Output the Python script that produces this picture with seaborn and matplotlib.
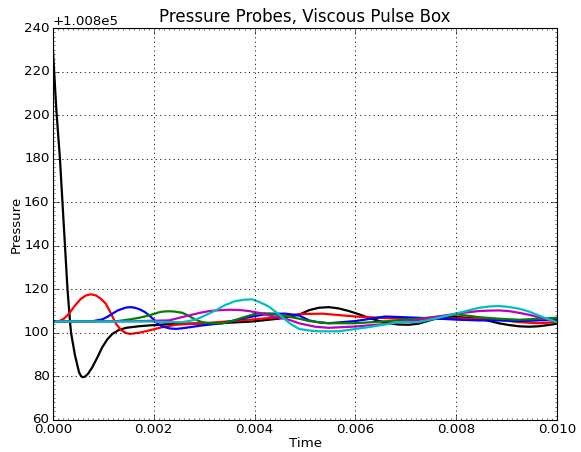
"""Pressure probes in a viscous pulse box, redrawn in the old matplotlib look."""

import matplotlib
matplotlib.use("Agg")
import matplotlib.pyplot as plt
import matplotlib.ticker as mticker
import seaborn as sns

BASE = 1.008e5

# probe readings, pressure shown as offset above BASE
t_black = [0.0, 0.00002, 0.00007, 0.00014, 0.00019, 0.00024, 0.00029, 0.00034, 0.00036,
           0.00044, 0.00052, 0.00056, 0.00059, 0.00064, 0.0007, 0.00078, 0.00088,
           0.00098, 0.00108, 0.00118, 0.0013, 0.00145, 0.0017, 0.00191, 0.00244,
           0.0030, 0.00329, 0.00395, 0.00448, 0.00488, 0.00508, 0.00527, 0.00547,
           0.00567, 0.00587, 0.00606, 0.00626, 0.00646, 0.00666, 0.00686, 0.00706,
           0.00725, 0.00765, 0.00785, 0.00805, 0.00825, 0.00845, 0.00865, 0.00884,
           0.00904, 0.00924, 0.00944, 0.00963, 0.0098, 0.0100]
p_black = [230.5, 222.0, 202.0, 180.0, 160.0, 140.0, 120.0, 105.2, 100.0,
           89.5, 81.8, 80.1, 79.6, 79.9, 81.3, 84.1, 88.6,
           93.4, 97.0, 99.5, 101.2, 102.3, 103.0, 103.4, 104.2,
           104.3, 104.4, 105.2, 106.5, 108.3, 110.4, 111.5, 111.8,
           111.2, 110.0, 108.6, 106.9, 105.5, 104.4, 103.8, 103.7,
           104.2, 106.9, 107.3, 107.2, 106.9, 106.5, 105.5, 104.4,
           103.6, 103.0, 102.8, 103.0, 103.5, 104.2]

t_red = [0.0, 0.00012, 0.00022, 0.00032, 0.00043, 0.00055, 0.00065, 0.00075, 0.00085,
         0.00095, 0.00105, 0.00115, 0.00125, 0.00135, 0.00145, 0.00154, 0.00172,
         0.00191, 0.00215, 0.00244, 0.0031, 0.00389, 0.00448, 0.00488, 0.00534,
         0.0060, 0.00666, 0.00725, 0.00805, 0.00884, 0.00924, 0.00963, 0.0100]
p_red = [105.2, 105.3, 106.5, 108.8, 112.3, 115.5, 117.1, 117.7, 117.2,
         115.7, 113.4, 109.0, 104.2, 101.3, 99.9, 99.5, 100.1,
         101.1, 102.5, 103.7, 104.6, 106.0, 107.2, 108.6, 108.8,
         107.5, 106.7, 106.1, 106.7, 106.0, 104.9, 104.4, 104.9]

t_blue = [0.0, 0.00078, 0.00098, 0.00108, 0.00118, 0.00128, 0.00137, 0.00145, 0.00154,
          0.00163, 0.00172, 0.00182, 0.00191, 0.002, 0.00208, 0.00217, 0.00232,
          0.00244, 0.00257, 0.00296, 0.00336, 0.00389, 0.00428, 0.00461, 0.00488,
          0.00508, 0.00527, 0.00547, 0.0060, 0.00659, 0.00725, 0.00765, 0.00805,
          0.00845, 0.00884, 0.00924, 0.0100]
p_blue = [105.2, 105.3, 106.2, 107.3, 108.8, 110.2, 111.0, 111.6, 111.8,
          111.5, 110.8, 109.6, 108.0, 106.1, 104.2, 102.9, 102.0,
          101.8, 102.1, 103.4, 104.4, 107.2, 108.8, 108.8, 108.0,
          105.7, 104.8, 104.4, 105.4, 107.5, 106.9, 106.5, 106.0,
          105.7, 105.7, 105.4, 106.0]

t_green = [0.0, 0.00125, 0.00154, 0.00175, 0.00191, 0.0021, 0.0022, 0.0023, 0.0024,
           0.00257, 0.0027, 0.00283, 0.00295, 0.0031, 0.00336, 0.00355, 0.00375,
           0.00402, 0.0042, 0.00442, 0.00465, 0.00488, 0.00508, 0.00547, 0.0060,
           0.00666, 0.00725, 0.00765, 0.00805, 0.00845, 0.00884, 0.00924, 0.0100]
p_green = [105.2, 105.3, 106.2, 107.1, 108.0, 109.4, 109.8, 109.9, 109.8,
           109.2, 107.7, 106.0, 105.0, 104.4, 104.4, 105.4, 106.9,
           108.8, 109.0, 108.4, 107.5, 106.5, 105.4, 104.4, 104.4,
           105.4, 106.5, 107.5, 108.4, 107.2, 106.5, 106.0, 106.9]

t_magenta = [0.0, 0.00154, 0.00191, 0.0023, 0.0027, 0.0029, 0.0031, 0.0033, 0.00349,
             0.0037, 0.00389, 0.0041, 0.00428, 0.00448, 0.00468, 0.00488, 0.00508,
             0.0052, 0.00547, 0.0060, 0.00666, 0.00725, 0.00765, 0.00805, 0.00845,
             0.00865, 0.00884, 0.00904, 0.00924, 0.00944, 0.00963, 0.0098, 0.0100]
p_magenta = [105.2, 105.3, 105.5, 105.7, 108.0, 109.1, 110.0, 110.4, 110.6,
             110.5, 110.0, 109.1, 108.0, 107.0, 106.0, 104.4, 103.4,
             102.8, 102.3, 102.9, 104.2, 106.0, 107.5, 109.0, 110.0,
             110.2, 110.3, 110.0, 109.2, 108.3, 107.2, 106.2, 104.9]

t_cyan = [0.0, 0.00191, 0.0023, 0.00257, 0.00283, 0.0030, 0.00323, 0.0034, 0.00362,
          0.0038, 0.00395, 0.0041, 0.00428, 0.00442, 0.00455, 0.0047, 0.00488,
          0.0051, 0.00527, 0.00567, 0.00626, 0.00686, 0.00725, 0.00765, 0.00805,
          0.00845, 0.00865, 0.00884, 0.00904, 0.00924, 0.00944, 0.00963, 0.0098,
          0.0100]
p_cyan = [105.2, 105.2, 104.9, 104.9, 106.0, 107.8, 110.3, 112.6, 114.6,
          115.2, 115.4, 114.1, 112.1, 109.6, 107.2, 104.3, 101.8,
          101.0, 100.7, 100.7, 102.6, 104.9, 104.9, 106.9, 109.2,
          111.5, 112.1, 112.3, 111.9, 111.1, 109.8, 108.0, 106.5,
          104.9]

SERIES = [
    (t_black, p_black, "k"),
    (t_red, p_red, "r"),
    (t_blue, p_blue, "b"),
    (t_green, p_green, "g"),
    (t_magenta, p_magenta, "m"),
    (t_cyan, p_cyan, "c"),
]

plt.style.use("classic")
plt.rcParams.update({"font.family": "DejaVu Sans", "font.size": 12})

fig, ax = plt.subplots(figsize=(581 / 80, 452 / 80), dpi=80, facecolor="white")
fig.subplots_adjust(left=0.091, right=0.959, top=0.938, bottom=0.071)

for t, p, col in SERIES:
    sns.lineplot(x=t, y=[BASE + v for v in p], color=col, linewidth=2,
                 sort=False, estimator=None, ax=ax)

ax.set_xlim(0.0, 0.010)
ax.set_ylim(BASE + 60, BASE + 240)
ax.xaxis.set_major_locator(mticker.MultipleLocator(0.002))
ax.yaxis.set_major_locator(mticker.MultipleLocator(20))
ax.xaxis.set_major_formatter(mticker.FormatStrFormatter("%.3f"))
ax.ticklabel_format(axis="y", useOffset=BASE)
ax.yaxis.set_minor_locator(mticker.AutoMinorLocator(10))
ax.xaxis.set_minor_locator(mticker.AutoMinorLocator(20))
ax.tick_params(which="major", direction="in", length=5, top=True, right=True, pad=3)
ax.tick_params(which="minor", direction="in", length=2, top=True, right=True)
ax.grid(True, which="major", color="black", linestyle=":", linewidth=0.8)

ax.set_title("Pressure Probes, Viscous Pulse Box", fontsize=15)
ax.set_xlabel("Time", labelpad=1)
ax.set_ylabel("Pressure", labelpad=1)

fig.savefig("out.png", dpi=80, facecolor="white")
plt.close(fig)
